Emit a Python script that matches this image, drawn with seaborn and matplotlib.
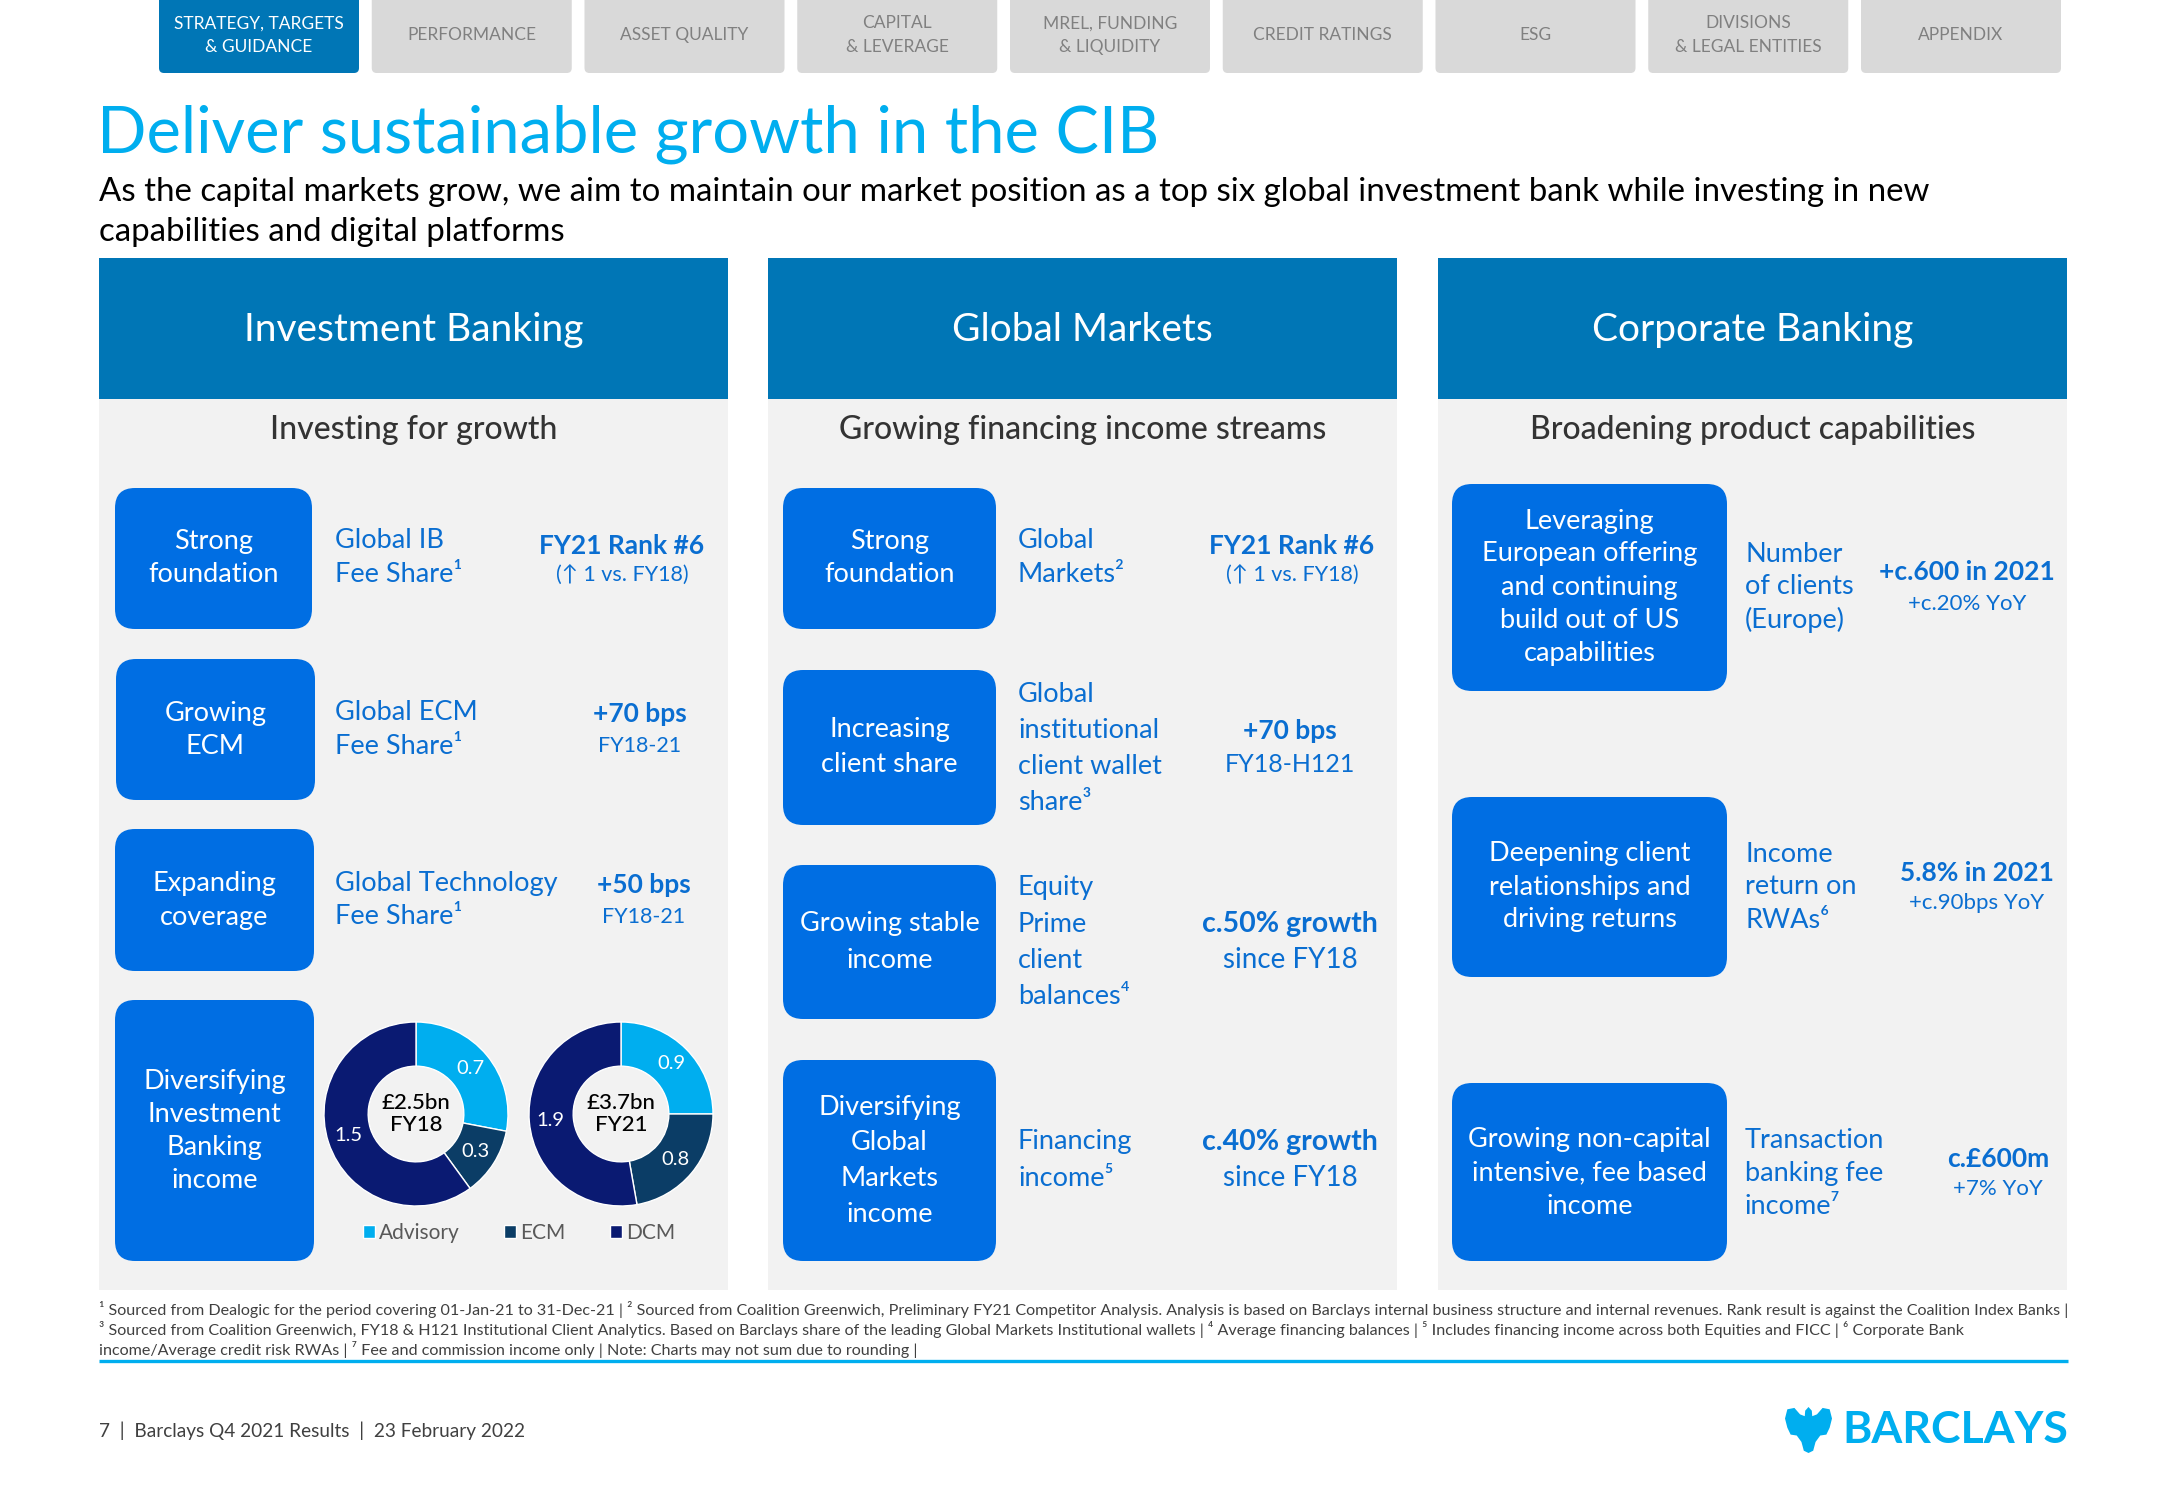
import numpy as np
import matplotlib.pyplot as plt
import seaborn as sns
from matplotlib.patches import FancyBboxPatch, Rectangle, Polygon

# data
nav_tabs = ["STRATEGY, TARGETS\n& GUIDANCE", "PERFORMANCE", "ASSET QUALITY", "CAPITAL\n& LEVERAGE",
            "MREL, FUNDING\n& LIQUIDITY", "CREDIT RATINGS", "ESG", "DIVISIONS\n& LEGAL ENTITIES", "APPENDIX"]
title = "Deliver sustainable growth in the CIB"
subtitle = ["As the capital markets grow, we aim to maintain our market position as a top six global investment bank while investing in new",
            "capabilities and digital platforms"]
panel_titles = ["Investment Banking", "Global Markets", "Corporate Banking"]
panel_subtitles = ["Investing for growth", "Growing financing income streams", "Broadening product capabilities"]

segments = ["Advisory", "ECM", "DCM"]
fy18_income = [0.7, 0.3, 1.5]
fy21_income = [0.9, 0.8, 1.9]
donut_totals = ["£2.5bn", "£3.7bn"]
donut_years = ["FY18", "FY21"]

ib_boxes = [["Strong", "foundation"], ["Growing", "ECM"], ["Expanding", "coverage"],
            ["Diversifying", "Investment", "Banking", "income"]]
ib_labels = [["Global IB", "Fee Share¹"], ["Global ECM", "Fee Share¹"], ["Global Technology", "Fee Share¹"]]
ib_metrics = [("FY21 Rank #6", "(↑ 1 vs. FY18)"), ("+70 bps", "FY18-21"), ("+50 bps", "FY18-21")]

gm_boxes = [["Strong", "foundation"], ["Increasing", "client share"], ["Growing stable", "income"],
            ["Diversifying", "Global", "Markets", "income"]]
gm_labels = [["Global", "Markets²"], ["Global", "institutional", "client wallet", "share³"],
             ["Equity", "Prime", "client", "balances⁴"], ["Financing", "income⁵"]]
gm_metrics = [("FY21 Rank #6", "(↑ 1 vs. FY18)"), ("+70 bps", "FY18-H121"),
              ("c.50% growth", "since FY18"), ("c.40% growth", "since FY18")]

cb_boxes = [["Leveraging", "European offering", "and continuing", "build out of US", "capabilities"],
            ["Deepening client", "relationships and", "driving returns"],
            ["Growing non-capital", "intensive, fee based", "income"]]
cb_labels = [["Number", "of clients", "(Europe)"], ["Income", "return on", "RWAs⁶"],
             ["Transaction", "banking fee", "income⁷"]]
cb_metrics = [("+c.600 in 2021", "+c.20% YoY"), ("5.8% in 2021", "+c.90bps YoY"), ("c.£600m", "+7% YoY")]

footnotes = [
    "¹ Sourced from Dealogic for the period covering 01-Jan-21 to 31-Dec-21 | ² Sourced from Coalition Greenwich, Preliminary FY21 Competitor Analysis. Analysis is based on Barclays internal business structure and internal revenues. Rank result is against the Coalition Index Banks |",
    "³ Sourced from Coalition Greenwich, FY18 & H121 Institutional Client Analytics. Based on Barclays share of the leading Global Markets Institutional wallets | ⁴ Average financing balances | ⁵ Includes financing income across both Equities and FICC | ⁶ Corporate Bank",
    "income/Average credit risk RWAs | ⁷ Fee and commission income only | Note: Charts may not sum due to rounding |",
]
footer = "7  |  Barclays Q4 2021 Results  |  23 February 2022"

# colours
CYAN = "#00AEEF"
HEAD = "#0076B6"
BOX = "#006EE3"
TXT_BLUE = "#0A6ED1"
PANEL = "#F2F2F2"
seg_colors = ["#00AEEF", "#0B3D66", "#0A1A72"]

sns.set_theme(style="white")
plt.rcParams['font.family'] = ['Lato', 'DejaVu Sans']

W, H = 2166, 1500
fig = plt.figure(figsize=(W / 100, H / 100), dpi=100)
bg = fig.add_axes([0, 0, 1, 1])
bg.set_xlim(0, W)
bg.set_ylim(H, 0)
bg.axis('off')


def rbox(x0, y0, x1, y1, color, r=20):
    bg.add_patch(FancyBboxPatch((x0, y0), x1 - x0, y1 - y0,
                                boxstyle=f"round,pad=0,rounding_size={r}",
                                fc=color, ec='none'))


def lines(x, ys, texts, **kw):
    for y, t in zip(ys, texts):
        bg.text(x, y, t, va='center', **kw)


# nav tabs
for i, t in enumerate(nav_tabs):
    x0 = 159 + i * 212.75
    rbox(x0, -20, x0 + 200, 73, HEAD if i == 0 else "#D9D9D9", r=5)
    bg.text(x0 + 100, 35, t, ha='center', va='center', fontsize=12.5, linespacing=1.55,
            color='white' if i == 0 else "#808080")

# title
bg.text(97, 134, title, fontsize=46.8, color=CYAN, va='center')
lines(99, [192, 232], subtitle, fontsize=23.8, color='black')

# panels
panel_x = [(99, 728), (768, 1397), (1438, 2067)]
for (x0, x1), pt, ps in zip(panel_x, panel_titles, panel_subtitles):
    bg.add_patch(Rectangle((x0, 399), x1 - x0, 1290 - 399, fc=PANEL, ec='none'))
    bg.add_patch(Rectangle((x0, 258), x1 - x0, 399 - 258, fc=HEAD, ec='none'))
    bg.text((x0 + x1) / 2, 330, pt, ha='center', va='center', fontsize=28, color='white')
    bg.text((x0 + x1) / 2, 430, ps, ha='center', va='center', fontsize=23, color='#333333',
            weight='medium')

box_kw = dict(ha='center', fontsize=19.5, color='white')
lab_kw = dict(ha='left', fontsize=19.5, color=TXT_BLUE)

# Investment Banking
ib_rects = [(115, 488, 312, 629), (116, 659, 315, 800), (115, 829, 314, 971), (115, 1000, 314, 1261)]
ib_lines = [[541, 575], [713, 746], [884, 917], [1082, 1115, 1148, 1181]]
for r, ys, t in zip(ib_rects, ib_lines, ib_boxes):
    rbox(*r, BOX)
    lines((r[0] + r[2]) / 2, ys, t, **box_kw)
for ys, t in zip(ib_lines[:3], ib_labels):
    lines(335, ys, t, **lab_kw)
for (cx, ys), (m1, m2) in zip([(622, [546, 575]), (640, [714, 746]), (644, [885, 917])], ib_metrics):
    bg.text(cx, ys[0], m1, ha='center', va='center', fontsize=19, weight='bold', color=TXT_BLUE)
    bg.text(cx, ys[1], m2, ha='center', va='center', fontsize=15.5, color=TXT_BLUE)

# Global Markets
gm_rects = [(783, 488, 996, 629), (783, 670, 996, 825), (783, 865, 996, 1019), (783, 1060, 996, 1261)]
gm_lines = [[541, 575], [729, 764], [924, 960], [1107, 1142, 1178, 1214]]
gm_lab_lines = [[541, 575], [695, 731, 767, 803], [888, 924, 960, 996], [1142, 1178]]
for r, ys, t in zip(gm_rects, gm_lines, gm_boxes):
    rbox(*r, BOX)
    lines((r[0] + r[2]) / 2, ys, t, **box_kw)
for ys, t in zip(gm_lab_lines, gm_labels):
    lines(1018, ys, t, **lab_kw)
gm_met_pos = [(1292, [546, 575]), (1290, [731, 764]), (1290, [924, 960]), (1290, [1142, 1178])]
for i, ((cx, ys), (m1, m2)) in enumerate(zip(gm_met_pos, gm_metrics)):
    bg.text(cx, ys[0], m1, ha='center', va='center', fontsize=19 if i < 2 else 20.5,
            weight='bold', color=TXT_BLUE)
    bg.text(cx, ys[1], m2, ha='center', va='center', fontsize=[15.5, 18, 20, 20][i], color=TXT_BLUE)

# Corporate Banking
cb_rects = [(1452, 484, 1727, 691), (1452, 797, 1727, 977), (1452, 1083, 1727, 1261)]
cb_lines = [[521, 554, 587, 620, 653], [854, 887, 920], [1140, 1173, 1206]]
cb_lab_lines = [[554, 587, 620], [854, 887, 920], [1140, 1173, 1206]]
for r, ys, t in zip(cb_rects, cb_lines, cb_boxes):
    rbox(*r, BOX)
    lines((r[0] + r[2]) / 2, ys, t, **box_kw)
for ys, t in zip(cb_lab_lines, cb_labels):
    lines(1745, ys, t, **lab_kw)
for (cx, ys), (m1, m2) in zip([(1967, [572, 604]), (1977, [873, 903]), (1998, [1159, 1189])], cb_metrics):
    bg.text(cx, ys[0], m1, ha='center', va='center', fontsize=19, weight='bold', color=TXT_BLUE)
    bg.text(cx, ys[1], m2, ha='center', va='center', fontsize=16, color=TXT_BLUE)

# donuts
R = 92
wedges = None
for cx, vals, tot, yr in zip([416, 621], [fy18_income, fy21_income], donut_totals, donut_years):
    ax = fig.add_axes([(cx - R) / W, 1 - (1114 + R) / H, 2 * R / W, 2 * R / H])
    s = sum(vals)
    wedges, _, autotexts = ax.pie(vals, colors=seg_colors, startangle=90, counterclock=False,
                                  autopct=lambda p, s=s: f"{p * s / 100:.1f}", pctdistance=0.77,
                                  wedgeprops=dict(width=0.48, edgecolor='white', linewidth=1))
    for t in autotexts:
        t.set_color('white')
        t.set_fontsize(14.5)
    ax.text(0, 0, f"{tot}\n{yr}", ha='center', va='center', fontsize=16, color='black',
            weight='medium', linespacing=1.15)
    ax.set_xlim(-1, 1)
    ax.set_ylim(-1, 1)
    ax.axis('off')

fig.legend(wedges, segments, loc='center', bbox_to_anchor=(519 / W, 1 - 1233 / H), ncol=3,
           frameon=False, fontsize=15, handlelength=0.6, handleheight=0.6, handletextpad=0.2,
           columnspacing=2.1, labelcolor='#595959')

# footnotes
lines(99, [1310, 1330, 1350], footnotes, fontsize=11.6, color='#404040')
bg.plot([99, 2068], [1361, 1361], color=CYAN, lw=2.4, solid_capstyle='butt')

# footer
bg.text(99, 1431, footer, va='center', fontsize=13.7, color='#404040')
bg.text(2068, 1430, "BARCLAYS", ha='right', va='center', fontsize=32, weight='bold', color=CYAN)
eagle_shape = [(0.5, 0.0), (0.57, 0.08), (0.58, 0.2), (0.68, 0.16), (0.8, 0.02), (0.95, 0.05),
               (1.0, 0.25), (0.95, 0.45), (0.88, 0.6), (0.75, 0.62), (0.65, 0.76), (0.6, 0.95),
               (0.5, 1.0), (0.4, 0.95), (0.35, 0.76), (0.25, 0.62), (0.12, 0.6), (0.05, 0.45),
               (0.0, 0.25), (0.05, 0.05), (0.2, 0.02), (0.32, 0.16), (0.42, 0.2), (0.43, 0.08)]
bg.add_patch(Polygon([(1785 + 47 * u, 1407 + 46 * v) for u, v in eagle_shape], closed=True,
                     fc=CYAN, ec='none'))

fig.savefig("out.png", dpi=100, facecolor='white')
